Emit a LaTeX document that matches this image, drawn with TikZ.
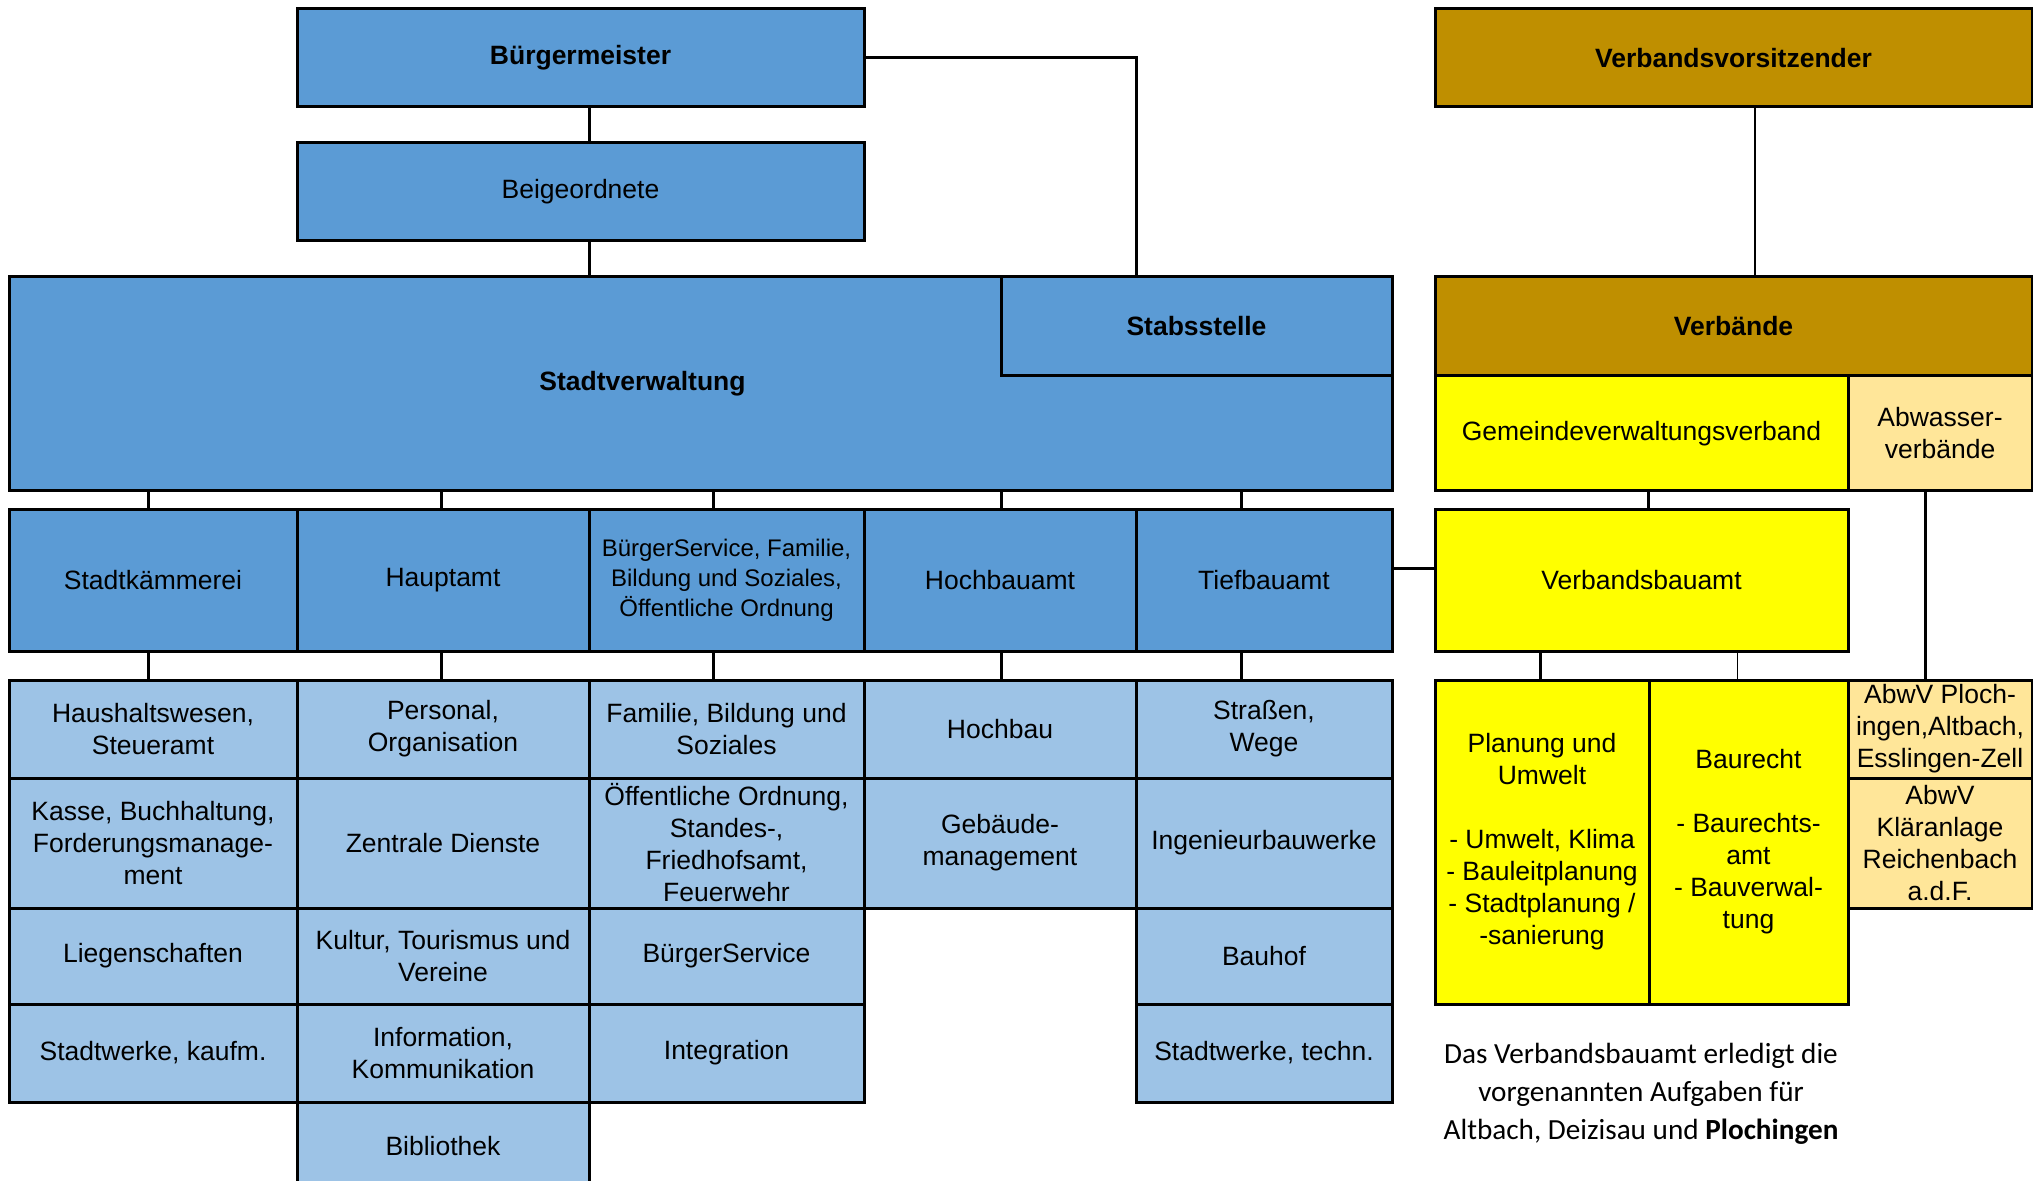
\documentclass[tikz,border=0pt]{standalone}
\usepackage{fontspec}
\setmainfont{Liberation Sans}
\newfontfamily\notefont{Carlito}
\usetikzlibrary{positioning}
\definecolor{amtblau}{HTML}{5B9BD5}
\definecolor{abtblau}{HTML}{9DC3E6}
\definecolor{verbgold}{HTML}{BF8F00}
\definecolor{gelb}{HTML}{FFFF00}
\definecolor{hellorange}{HTML}{FFE699}
\newcommand\orgfont{\fontsize{13.25pt}{16pt}\selectfont}
\tikzstyle{bx} = [rectangle, draw, line width=1.5pt, outer sep=0pt, inner xsep=2pt, inner ysep=0pt, align=center, font=\orgfont]
\tikzstyle{amt} = [bx, fill=amtblau]
\tikzstyle{abt} = [bx, fill=abtblau]
\tikzstyle{vbd} = [bx, fill=verbgold, font=\orgfont\bfseries]
\tikzstyle{gv} = [bx, fill=gelb]
\tikzstyle{aw} = [bx, fill=hellorange]
\tikzstyle{ln} = [draw, line width=1.5pt]
\tikzstyle{ln2} = [draw, line width=0.75pt]
\begin{document}
\begin{tikzpicture}[x=1pt, y=-1pt]
	\useasboundingbox (0,0) rectangle (1016.5,590.5);
	% Stadt
	\node [amt, font=\orgfont\bfseries, minimum width=283.5pt, minimum height=49pt, anchor=north west] (bm) at (148.5,4.5) {Bürgermeister};
	\node [amt, below=18pt of bm, minimum width=283.5pt, minimum height=49pt] (bg) {Beigeordnete};
	\node [amt, minimum width=691.5pt, minimum height=107pt, anchor=north west, label={[font=\orgfont\bfseries, xshift=-29pt]center:Stadtverwaltung}] (sv) at (4.5,138.5) {};
	\node [amt, font=\orgfont\bfseries, minimum width=195.5pt, minimum height=49.5pt, anchor=north east] (st) at (sv.north east) {Stabsstelle};
	% Aemter
	\node [amt, minimum width=144pt, minimum height=70.5pt, anchor=north west] (sk) at ([yshift=-9.5pt]sv.south west) {Stadtkämmerei};
	\node [amt, right=0pt of sk, minimum width=146pt, minimum height=70.5pt] (ha) {Hauptamt};
	\node [amt, right=0pt of ha, minimum width=137.5pt, minimum height=70.5pt, font=\fontsize{12pt}{15pt}\selectfont] (bs) {BürgerService, Familie,\\Bildung und Soziales,\\Öffentliche Ordnung};
	\node [amt, right=0pt of bs, minimum width=136pt, minimum height=70.5pt] (hb) {Hochbauamt};
	\node [amt, right=0pt of hb, minimum width=128pt, minimum height=70.5pt] (tb) {Tiefbauamt};
	% Stadtkaemmerei
	\node [abt, below=14.5pt of sk, minimum width=144pt, minimum height=49pt] (hw) {Haushaltswesen,\\Steueramt};
	\node [abt, below=0pt of hw, minimum width=144pt, minimum height=65pt] (kb) {Kasse, Buchhaltung,\\Forderungsmanage-\\ment};
	\node [abt, below=0pt of kb, minimum width=144pt, minimum height=48pt] (lg) {Liegenschaften};
	\node [abt, below=0pt of lg, minimum width=144pt, minimum height=49pt] (swk) {Stadtwerke, kaufm.};
	% Hauptamt
	\node [abt, below=14.5pt of ha, minimum width=146pt, minimum height=49pt] (po) {Personal,\\Organisation};
	\node [abt, below=0pt of po, minimum width=146pt, minimum height=65pt] (zd) {Zentrale Dienste};
	\node [abt, below=0pt of zd, minimum width=146pt, minimum height=48pt] (kt) {Kultur, Tourismus und\\Vereine};
	\node [abt, below=0pt of kt, minimum width=146pt, minimum height=49pt] (ik) {Information,\\Kommunikation};
	\node [abt, below=0pt of ik, minimum width=146pt, minimum height=44pt] (bib) {Bibliothek};
	% BuergerService
	\node [abt, below=14.5pt of bs, minimum width=137.5pt, minimum height=49pt] (fb) {Familie, Bildung und\\Soziales};
	\node [abt, below=0pt of fb, minimum width=137.5pt, minimum height=65pt] (oo) {Öffentliche Ordnung,\\Standes-,\\Friedhofsamt,\\Feuerwehr};
	\node [abt, below=0pt of oo, minimum width=137.5pt, minimum height=48pt] (bsv) {BürgerService};
	\node [abt, below=0pt of bsv, minimum width=137.5pt, minimum height=49pt] (ig) {Integration};
	% Hochbauamt
	\node [abt, below=14.5pt of hb, minimum width=136pt, minimum height=49pt] (hbu) {Hochbau};
	\node [abt, below=0pt of hbu, minimum width=136pt, minimum height=65pt] (gm) {Gebäude-\\management};
	% Tiefbauamt
	\node [abt, below=14.5pt of tb, minimum width=128pt, minimum height=49pt] (sw) {Straßen,\\Wege};
	\node [abt, below=0pt of sw, minimum width=128pt, minimum height=65pt] (ib) {Ingenieurbauwerke};
	\node [abt, below=0pt of ib, minimum width=128pt, minimum height=48pt] (bh) {Bauhof};
	\node [abt, below=0pt of bh, minimum width=128pt, minimum height=49pt] (swt) {Stadtwerke, techn.};
	% Verbaende
	\node [vbd, minimum width=298.5pt, minimum height=49pt, anchor=north west] (vv) at (717.5,4.5) {Verbandsvorsitzender};
	\node [vbd, below=85pt of vv, minimum width=298.5pt, minimum height=49.5pt] (vb) {Verbände};
	\node [gv, minimum width=206.5pt, minimum height=57.5pt, anchor=north west] (gvv) at (vb.south west) {Gemeindeverwaltungsverband};
	\node [aw, right=0pt of gvv, minimum width=92pt, minimum height=57.5pt] (awv) {Abwasser-\\verbände};
	\node [gv, minimum width=206.5pt, minimum height=70.5pt, anchor=north west] (vba) at ([yshift=-9.5pt]gvv.south west) {Verbandsbauamt};
	\node [gv, minimum width=107pt, minimum height=162pt, anchor=north west] (pu) at ([yshift=-14.5pt]vba.south west) {Planung und\\Umwelt\\[16pt]- Umwelt, Klima\\- Bauleitplanung\\- Stadtplanung /\\-sanierung};
	\node [gv, right=0pt of pu, minimum width=99.5pt, minimum height=162pt] (br) {Baurecht\\[16pt]- Baurechts-\\amt\\- Bauverwal-\\tung};
	\node [aw, minimum width=92pt, minimum height=49pt, anchor=north west] (ap) at (br.north east) {AbwV Ploch-\\ingen,Altbach,\\Esslingen-Zell};
	\node [aw, below=0pt of ap, minimum width=92pt, minimum height=65pt] (ak) {AbwV\\Kläranlage\\Reichenbach\\a.d.F.};
	\node [font=\notefont\fontsize{14.6pt}{19pt}\selectfont, align=center] (nt) at (820.5,547) {Das Verbandsbauamt erledigt die\\vorgenannten Aufgaben für\\Altbach, Deizisau und \textbf{Plochingen}};
	% Linien
	\draw [ln] ([xshift=4.25pt]bm.south) -- ([xshift=4.25pt]bg.north);
	\draw [ln] ([xshift=4.25pt]bg.south) -- ++(0,18);
	\draw [ln] (bm.east) -| (tb.west |- st.north);
	\draw [ln2] ([xshift=10.75pt]vv.south) -- ([xshift=10.75pt]vb.north);
	\foreach \a/\b/\s in {sk/hw/-2.5, ha/po/-1, bs/fb/-6.75, hb/hbu/0.5, tb/sw/-11.5} {
		\draw [ln] ([xshift=\s pt]\a.north) -- ++(0,-9.5);
		\draw [ln] ([xshift=\s pt]\a.south) -- ([xshift=\s pt]\b.north);
	}
	\draw [ln] ([yshift=6.25pt]tb.east) -- ([yshift=6.25pt]vba.west);
	\draw [ln] ([xshift=3.25pt]gvv.south) -- ([xshift=3.25pt]vba.north);
	\draw [ln] ([xshift=-7.5pt]awv.south) -- ([xshift=-7.5pt]ap.north);
	\draw [ln] ([xshift=-1pt]pu.north) -- ++(0,-14.5);
	\draw [ln2] ([xshift=-5.5pt]br.north) -- ++(0,-14.5);
\end{tikzpicture}
\end{document}
